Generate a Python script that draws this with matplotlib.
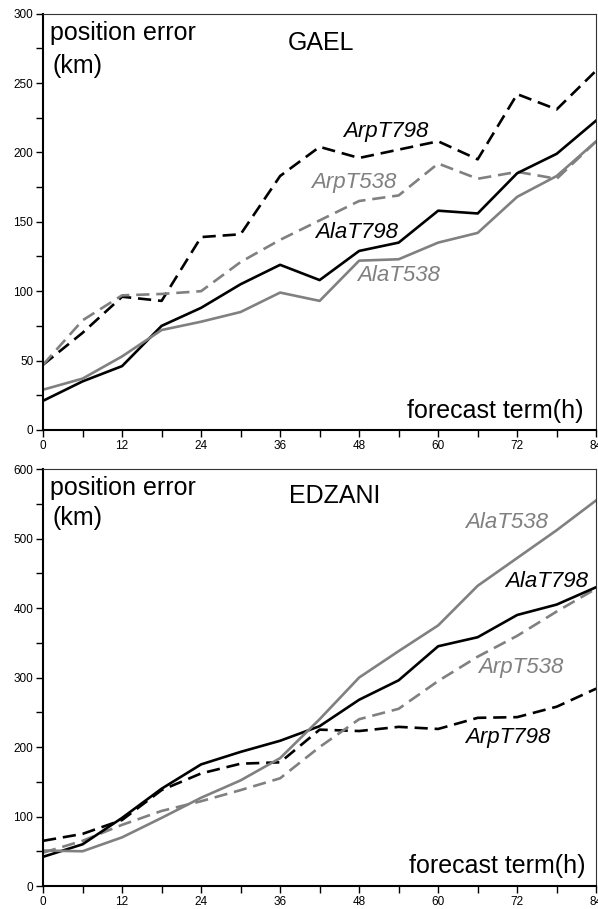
import numpy as np
import matplotlib
matplotlib.use('Agg')
import matplotlib.pyplot as plt
from matplotlib.ticker import MultipleLocator

plt.rcParams['font.family'] = ['Liberation Sans', 'DejaVu Sans']

# forecast terms (h)
terms = [0, 6, 12, 18, 24, 30, 36, 42, 48, 54, 60, 66, 72, 78, 84]

# GAEL position errors (km)
gael_alaT798 = [21, 35, 46, 75, 88, 105, 119, 108, 129, 135, 158, 156, 185, 199, 223]
gael_alaT538 = [29, 37, 53, 72, 78, 85, 99, 93, 122, 123, 135, 142, 168, 183, 208]
gael_arpT798 = [47, 70, 96, 93, 139, 141, 183, 204, 196, 202, 208, 195, 242, 231, 259]
gael_arpT538 = [47, 79, 97, 98, 100, 121, 137, 151, 165, 169, 192, 181, 186, 181, 208]

# EDZANI position errors (km)
edz_alaT798 = [42, 60, 98, 140, 175, 193, 209, 230, 268, 296, 345, 358, 390, 405, 430]
edz_alaT538 = [51, 50, 70, 98, 127, 152, 184, 240, 300, 338, 375, 432, 472, 512, 555]
edz_arpT798 = [65, 75, 95, 138, 162, 176, 178, 225, 223, 229, 226, 242, 243, 258, 284]
edz_arpT538 = [48, 65, 88, 108, 122, 138, 155, 200, 240, 255, 295, 330, 360, 395, 428]

GREY = '#808080'
LW = 1.9
DASH = (0, (5, 2.6))
BIG = 18
LAB = 16

fig = plt.figure(figsize=(5.98, 9.09), dpi=100)
ax1 = fig.add_axes([0.072, 0.527, 0.925, 0.458])
ax2 = fig.add_axes([0.072, 0.0253, 0.925, 0.4587])


def style_axes(ax, ymax, ystep):
    ax.set_xlim(0, 84)
    ax.set_ylim(0, ymax)
    ax.xaxis.set_major_locator(MultipleLocator(12))
    ax.xaxis.set_minor_locator(MultipleLocator(6))
    ax.yaxis.set_major_locator(MultipleLocator(ystep))
    ax.yaxis.set_minor_locator(MultipleLocator(ystep / 2))
    ax.tick_params(which='both', direction='out', labelsize=8.5, width=1.0,
                   top=False, right=False)
    ax.tick_params(which='major', length=5, pad=2)
    ax.tick_params(which='minor', length=5)
    ax.spines['left'].set_linewidth(1.5)
    ax.spines['bottom'].set_linewidth(1.5)
    ax.spines['top'].set_linewidth(0.8)
    ax.spines['right'].set_linewidth(0.8)
    ax.spines['top'].set_color('#333333')
    ax.spines['right'].set_color('#333333')


def label(ax, x, y, s, color='black', italic=True, size=LAB, ha='left'):
    ax.text(x, y, s, fontsize=size, color=color,
            style='italic' if italic else 'normal',
            ha=ha, va='baseline')


# GAEL
ax1.plot(terms, gael_arpT798, color='black', lw=LW, linestyle=DASH)
ax1.plot(terms, gael_arpT538, color=GREY, lw=LW, linestyle=DASH)
ax1.plot(terms, gael_alaT798, color='black', lw=LW)
ax1.plot(terms, gael_alaT538, color=GREY, lw=LW)
style_axes(ax1, 300, 50)
label(ax1, 1.0, 281, 'position error', italic=False, size=BIG)
label(ax1, 1.5, 257, '(km)', italic=False, size=BIG)
label(ax1, 37.1, 274, 'GAEL', italic=False, size=BIG)
label(ax1, 45.6, 211, 'ArpT798')
label(ax1, 40.7, 174, 'ArpT538', color=GREY)
label(ax1, 41.3, 138, 'AlaT798')
label(ax1, 47.7, 107, 'AlaT538', color=GREY)
label(ax1, 82.1, 8.6, 'forecast term(h)', italic=False, size=BIG, ha='right')

# EDZANI
ax2.plot(terms, edz_arpT798, color='black', lw=LW, linestyle=DASH)
ax2.plot(terms, edz_arpT538, color=GREY, lw=LW, linestyle=DASH)
ax2.plot(terms, edz_alaT798, color='black', lw=LW)
ax2.plot(terms, edz_alaT538, color=GREY, lw=LW)
style_axes(ax2, 600, 100)
label(ax2, 1.0, 563, 'position error', italic=False, size=BIG)
label(ax2, 1.5, 519, '(km)', italic=False, size=BIG)
label(ax2, 37.4, 551, 'EDZANI', italic=False, size=BIG)
label(ax2, 64.1, 515, 'AlaT538', color=GREY)
label(ax2, 70.2, 430, 'AlaT798')
label(ax2, 66.1, 306, 'ArpT538', color=GREY)
label(ax2, 64.1, 206, 'ArpT798')
label(ax2, 82.4, 19, 'forecast term(h)', italic=False, size=BIG, ha='right')

fig.savefig('out.png', dpi=100)
